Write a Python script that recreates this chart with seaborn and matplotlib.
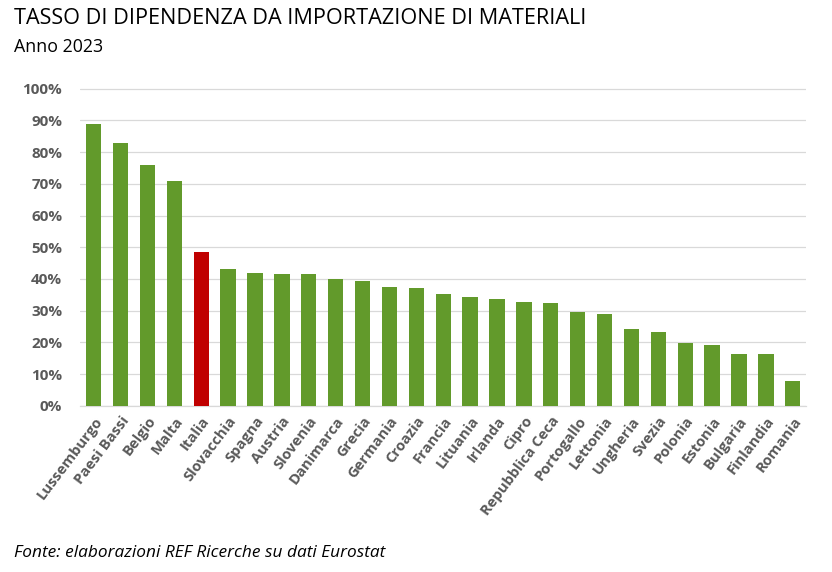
import pandas as pd
import matplotlib
matplotlib.use('Agg')
import matplotlib.pyplot as plt
from matplotlib.ticker import PercentFormatter
import seaborn as sns

# Paesi e tasso di dipendenza (quota)
paesi = ['Lussemburgo', 'Paesi Bassi', 'Belgio', 'Malta', 'Italia', 'Slovacchia',
         'Spagna', 'Austria', 'Slovenia', 'Danimarca', 'Grecia', 'Germania',
         'Croazia', 'Francia', 'Lituania', 'Irlanda', 'Cipro', 'Repubblica Ceca',
         'Portogallo', 'Lettonia', 'Ungheria', 'Svezia', 'Polonia', 'Estonia',
         'Bulgaria', 'Finlandia', 'Romania']
tasso = [88.8, 82.9, 75.8, 71.0, 48.4, 43.2,
         41.9, 41.6, 41.6, 39.9, 39.3, 37.6,
         37.0, 35.3, 34.2, 33.6, 32.7, 32.4,
         29.7, 28.8, 24.1, 23.4, 19.9, 19.1,
         16.2, 16.2, 7.9]
evidenza = 'Italia'

VERDE = '#629A2B'
ROSSO = '#C00000'
GRIGIO = '#595959'

df = pd.DataFrame({'paese': paesi, 'tasso': [v / 100 for v in tasso]})
df['gruppo'] = ['evidenza' if p == evidenza else 'altri' for p in df['paese']]

sns.set_style('white')
plt.rcParams['font.family'] = ['Open Sans', 'DejaVu Sans']

fig = plt.figure(figsize=(8.32, 5.72), dpi=100)
ax = fig.add_axes([0.0965, 0.2907, 0.8725, 0.5553])

sns.barplot(data=df, x='paese', y='tasso', hue='gruppo',
            palette={'altri': VERDE, 'evidenza': ROSSO}, saturation=1,
            width=0.57, dodge=False, legend=False, linewidth=0,
            ax=ax, zorder=3)

ax.set_xlim(-0.5, len(paesi) - 0.5)
ax.set_ylim(0, 1.002)
ax.set_yticks([i / 10 for i in range(11)])
ax.yaxis.set_major_formatter(PercentFormatter(1.0, decimals=0))
ax.grid(axis='y', color='#D9D9D9', linewidth=0.9, zorder=0)
ax.set_axisbelow(True)
for s in ['top', 'right', 'left']:
    ax.spines[s].set_visible(False)
ax.spines['bottom'].set_color('#D9D9D9')
ax.spines['bottom'].set_linewidth(0.9)

ax.set_xlabel('')
ax.set_ylabel('')
ax.tick_params(axis='both', length=0, colors=GRIGIO)
ax.tick_params(axis='y', pad=13)
ax.tick_params(axis='x', pad=6)
for lab in ax.get_yticklabels():
    lab.set_fontsize(11)
    lab.set_fontweight('bold')
for lab in ax.get_xticklabels():
    lab.set_fontsize(10.6)
    lab.set_fontweight('bold')
    lab.set_rotation(53)
    lab.set_ha('right')
    lab.set_rotation_mode('anchor')

fig.text(0.017, 0.968, 'TASSO DI DIPENDENZA DA IMPORTAZIONE DI MATERIALI',
         fontsize=15.6, color='black', va='center', ha='left')
fig.text(0.017, 0.917, 'Anno 2023', fontsize=12.8, color='black',
         va='center', ha='left')
fig.text(0.017, 0.033, 'Fonte: elaborazioni REF Ricerche su dati Eurostat',
         fontsize=12.4, style='italic', color='black', va='center', ha='left')

fig.savefig('out.png', dpi=100, facecolor='white')
